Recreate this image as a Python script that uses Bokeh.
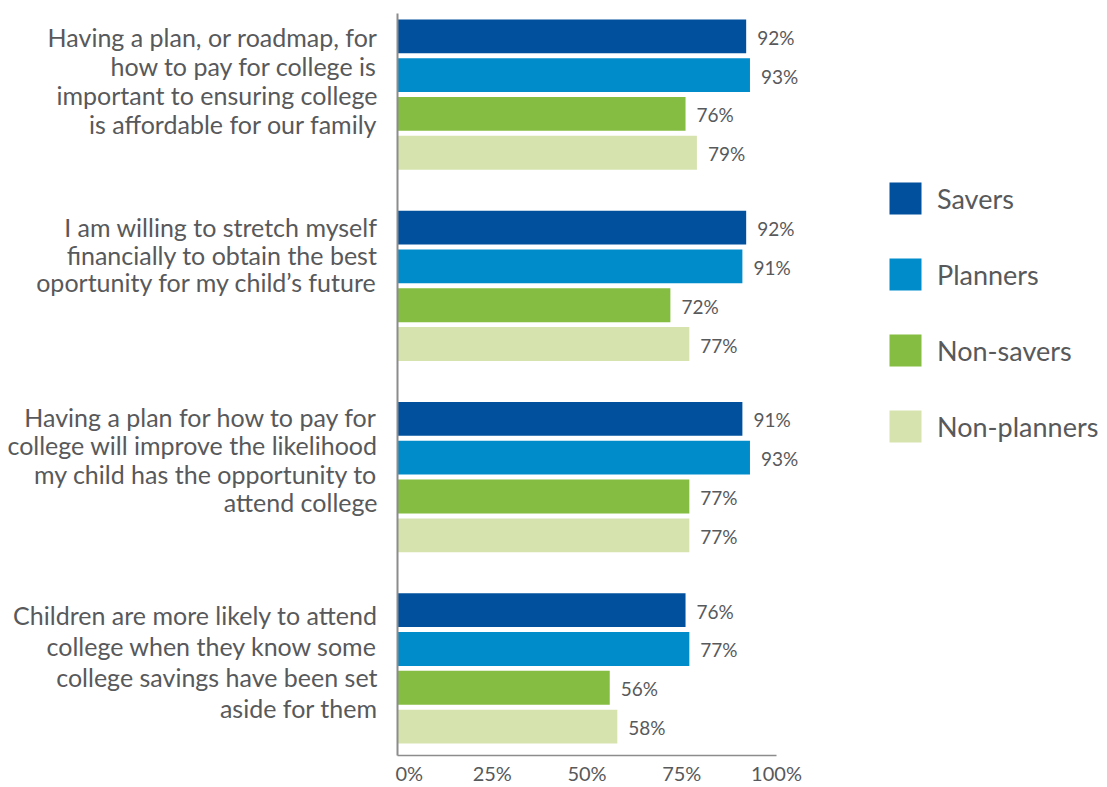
from bokeh.plotting import figure
from bokeh.layouts import row
from bokeh.models import (ColumnDataSource, Range1d, FixedTicker, PrintfTickFormatter,
                          Legend, LegendItem)
from bokeh.core.properties import value
from bokeh.embed import file_html
from bokeh.resources import INLINE

# ---- data ----
questions = [
    ["Having a plan, or roadmap, for", "how to pay for college is",
     "important to ensuring college", "is affordable for our family"],
    ["I am willing to stretch myself", "financially to obtain the best",
     "oportunity for my child\u2019s future"],
    ["Having a plan for how to pay for", "college will improve the likelihood",
     "my child has the opportunity to", "attend college"],
    ["Children are more likely to attend", "college when they know some",
     "college savings have been set", "aside for them"],
]
series = ["Savers", "Planners", "Non-savers", "Non-planners"]
colors = ["#00509E", "#008BCB", "#84BD41", "#D6E3AF"]
savers = [92, 92, 91, 76]
planners = [93, 91, 93, 77]
non_savers = [76, 72, 77, 56]
non_planners = [79, 77, 77, 58]
values = [savers, planners, non_savers, non_planners]
ticks = [0, 25, 50, 75, 100]

FONT = value("Lato")
GREY = "#58595B"
AXIS_GREY = "#8C8C8C"

# ---- layout constants (vertical units run top-down) ----
W, H = 1107, 787
top_border, bottom_border = 13, 28
first_center = 36.0
bar_pitch = 39.0
group_pitch = 192.3
bar_h = 34.0
label_first_off = [18, 16, 15, 22]      # first text line below group top
label_line_pitch = [29, 28, 28.5, 31]   # text line spacing per group
left_w = 395
center_frame_w = 420
px_per_pct = 3.79
center_w = center_frame_w + 2
right_w = W - left_w - center_w

y_range = Range1d(H - bottom_border, top_border)

# ---- left: category labels ----
pl = figure(width=left_w, height=H, output_backend="svg", toolbar_location=None,
            x_range=Range1d(-left_w, 0), y_range=y_range,
            min_border_left=0, min_border_right=0, min_border_top=top_border,
            min_border_bottom=bottom_border)
pl.axis.visible = False
pl.grid.visible = False
pl.outline_line_color = None
lx, ly, lt = [], [], []
for g, lines in enumerate(questions):
    top = first_center - bar_h / 2 + g * group_pitch
    for i, line in enumerate(lines):
        lx.append(0)
        ly.append(top + label_first_off[g] + i * label_line_pitch[g])
        lt.append(line)
pl.text(x="x", y="y", text="t", source=ColumnDataSource(dict(x=lx, y=ly, t=lt)),
        x_offset=-18, text_align="right", text_baseline="middle",
        text_font=FONT, text_font_size="25px", text_color=GREY)

# ---- center: bars ----
p = figure(width=center_w, height=H, output_backend="svg", toolbar_location=None,
           x_range=Range1d(0, center_frame_w / px_per_pct), y_range=y_range,
           min_border_left=2, min_border_right=0, min_border_top=top_border,
           min_border_bottom=bottom_border)
p.outline_line_color = None
p.grid.visible = False

for k, (name, col, vals) in enumerate(zip(series, colors, values)):
    ys = [first_center + g * group_pitch + k * bar_pitch for g in range(len(vals))]
    src = ColumnDataSource(dict(y=ys, right=vals, lab=[f"{v}%" for v in vals]))
    p.hbar(y="y", left=0, right="right", height=bar_h, source=src,
           fill_color=col, line_color=None)
    p.text(x="right", y="y", text="lab", source=src, x_offset=11, y_offset=1,
           text_align="left", text_baseline="middle", text_font=FONT,
           text_font_size="19px", text_color=GREY)

p.xaxis.ticker = FixedTicker(ticks=ticks)
p.xaxis.bounds = (0, 100)
p.xaxis.formatter = PrintfTickFormatter(format="%d%%")
p.xaxis.major_tick_line_color = None
p.xaxis.minor_tick_line_color = None
p.xaxis.major_tick_out = 0
p.xaxis.major_tick_in = 0
p.xaxis.axis_line_color = AXIS_GREY
p.xaxis.axis_line_width = 1.5
p.xaxis.major_label_standoff = 5
p.xaxis.major_label_text_font = "Lato"
p.xaxis.major_label_text_font_size = "20px"
p.xaxis.major_label_text_color = GREY

p.yaxis.ticker = FixedTicker(ticks=[])
p.yaxis.major_tick_line_color = None
p.yaxis.minor_tick_line_color = None
p.yaxis.major_tick_out = 0
p.yaxis.major_tick_in = 0
p.yaxis.major_label_standoff = 0
p.yaxis.major_label_text_font_size = "0px"
p.yaxis.axis_line_color = AXIS_GREY
p.yaxis.axis_line_width = 2

# ---- right: legend ----
pr = figure(width=right_w, height=H, output_backend="svg", toolbar_location=None,
            x_range=Range1d(0, 1), y_range=Range1d(0, 1),
            min_border_left=0, min_border_right=0, min_border_top=0, min_border_bottom=0)
pr.axis.visible = False
pr.grid.visible = False
pr.outline_line_color = None
items = []
for k, (name, col) in enumerate(zip(series, colors)):
    key_src = ColumnDataSource(dict(y=[k], right=[values[k][0]]))
    r = pr.hbar(y="y", right="right", height=1, source=key_src,
                fill_color=col, line_color=None, visible=False)
    items.append(LegendItem(label=name, renderers=[r]))
legend = Legend(items=items, location=(885 - left_w - center_w, H - 448 - 30),
                orientation="vertical",
                glyph_width=40, glyph_height=40, label_height=40, spacing=36,
                label_standoff=12, padding=0, margin=0, border_line_color=None,
                background_fill_alpha=0, label_text_font="Lato",
                label_text_font_size="27px", label_text_color=GREY,
                label_text_baseline="middle",
                inactive_fill_alpha=0)
pr.add_layout(legend, "center")

layout = row(pl, p, pr, spacing=0)
open("out.html", "w").write(file_html(layout, INLINE))
